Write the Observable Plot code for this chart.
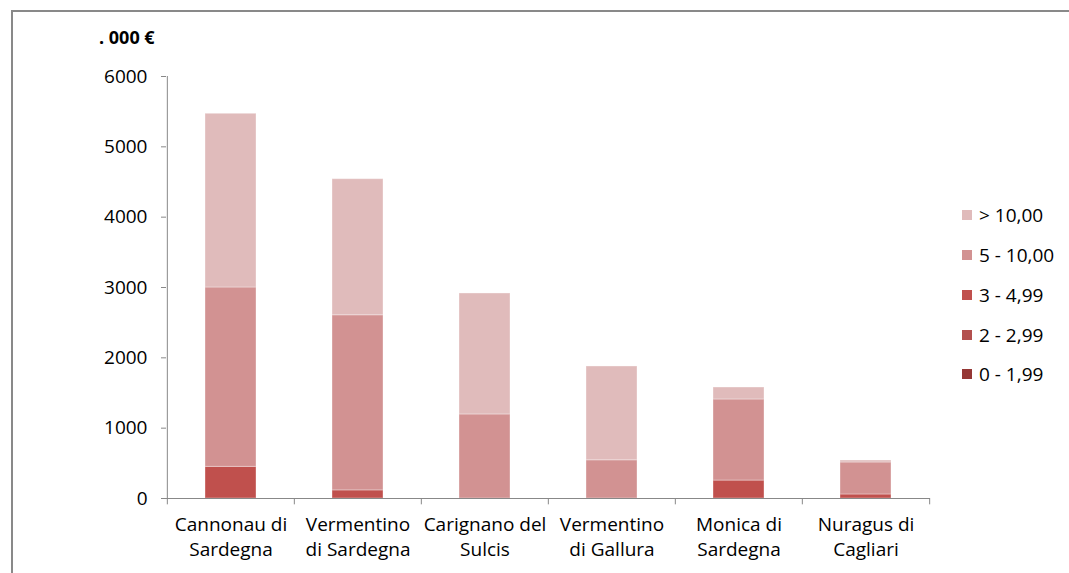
<!DOCTYPE html>
<html>
<head>
<meta charset="utf-8">
<script src="https://cdn.jsdelivr.net/npm/d3@7"></script>
<script src="https://cdn.jsdelivr.net/npm/@observablehq/plot@0.6"></script>
<style>
  html, body { margin: 0; padding: 0; background: #fff; overflow: hidden; }
  #wrap { position: relative; width: 1069px; height: 573px; overflow: hidden; font-family: "Open Sans", sans-serif; }
  #frame { position: absolute; left: 11px; top: 10px; width: 1058px; height: 563px; border-left: 2px solid #898989; border-top: 2px solid #898989; box-sizing: border-box; }
  #unit { position: absolute; left: 99px; top: 25px; font-size: 18px; font-weight: bold; color: #000; }
  #legend { position: absolute; left: 962px; top: 0; width: 107px; height: 573px; font-size: 19px; }
  .li { position: absolute; left: 0; white-space: nowrap; display: flex; align-items: center; line-height: 24px; }
  .sw { width: 10px; height: 10px; margin-right: 7px; }
  #chart { position: absolute; left: 0; top: 0; width: 1069px; height: 573px; }
  svg { display: block; }
</style>
</head>
<body>
<div id="wrap">
  <div id="frame"></div>
  <div id="unit">. 000 €</div>
  <div id="chart"></div>
  <div id="legend"></div>
</div>
<script>
const categories = ["Cannonau di Sardegna", "Vermentino di Sardegna", "Carignano del Sulcis", "Vermentino di Gallura", "Monica di Sardegna", "Nuragus di Cagliari"];
const catLabels = ["Cannonau di\nSardegna", "Vermentino\ndi Sardegna", "Carignano del\nSulcis", "Vermentino\ndi Gallura", "Monica di\nSardegna", "Nuragus di\nCagliari"];
const seriesNames = ["0 - 1,99", "2 - 2,99", "3 - 4,99", "5 - 10,00", "> 10,00"];
const seriesColors = ["#953735", "#b3504e", "#c0504d", "#d29292", "#e0bbbb"];
const s0_199 = [0, 0, 0, 0, 0, 0];
const s2_299 = [0, 0, 0, 0, 0, 0];
const s3_499 = [450, 115, 0, 0, 255, 57];
const s5_10 = [2550, 2490, 1195, 543, 1153, 455];
const sOver10 = [2470, 1935, 1720, 1334, 170, 28];
const yTicks = [0, 1000, 2000, 3000, 4000, 5000, 6000];

const seriesValues = [s0_199, s2_299, s3_499, s5_10, sOver10];
const table = seriesNames.flatMap((s, si) => categories.map((c, ci) => ({cat: c, series: s, value: seriesValues[si][ci]})));
const labelOf = new Map(categories.map((c, i) => [c, catLabels[i]]));

const W = 1069, H = 573, mL = 166, mR = 139, mT = 76, mB = 75;
const halfStep = (W - mL - mR) / categories.length / 2;

const plot = Plot.plot({
  width: W, height: H,
  marginLeft: mL, marginRight: mR, marginTop: mT, marginBottom: mB,
  style: {fontFamily: "'Open Sans', sans-serif", fontSize: "19px", color: "#000", background: "transparent", overflow: "hidden"},
  x: {domain: categories, paddingInner: 0.6, paddingOuter: 0.3, label: null},
  y: {domain: [0, 6000], label: null},
  color: {domain: seriesNames, range: seriesColors},
  marks: [
    Plot.barY(table, {x: "cat", y: "value", fill: "series", stroke: "#fff", strokeOpacity: 0.35, strokeWidth: 1}),
    Plot.ruleX([categories[0]], {x: d => d, y1: 0, y2: 6000, dx: -halfStep, stroke: "#888"}),
    Plot.ruleY([0], {stroke: "#888", strokeWidth: 1}),
    Plot.ruleX(categories, {x: d => d, y1: 0, y2: -90, dx: -halfStep, stroke: "#888"}),
    Plot.ruleX([categories[categories.length - 1]], {x: d => d, y1: 0, y2: -90, dx: halfStep, stroke: "#888"}),
    Plot.axisY({ticks: yTicks, tickSize: 5, tickPadding: 14, stroke: "#888", fill: "#000", tickFormat: d => String(d), fontSize: 19, label: null}),
    Plot.axisX({tickSize: 0, tickPadding: 15, tickFormat: d => labelOf.get(d), fill: "#000", fontSize: 19, lineHeight: 1.3, label: null})
  ]
});
document.getElementById("chart").appendChild(plot);

const legend = document.getElementById("legend");
const legendTops = [374, 335, 295, 255, 215];
seriesNames.forEach((s, i) => {
  const item = document.createElement("div");
  item.className = "li";
  item.style.top = (legendTops[i] - 12) + "px";
  const sw = document.createElement("div");
  sw.className = "sw";
  sw.style.background = seriesColors[i];
  const t = document.createElement("span");
  t.textContent = s;
  item.appendChild(sw);
  item.appendChild(t);
  legend.appendChild(item);
});
</script>
</body>
</html>
